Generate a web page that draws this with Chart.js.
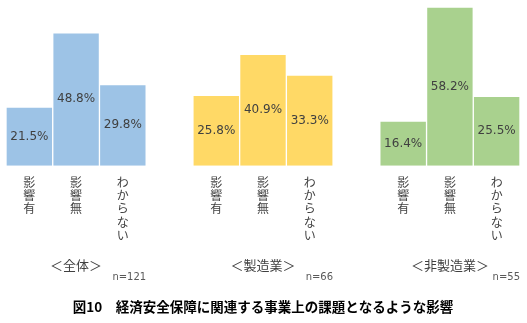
<!DOCTYPE html>
<html>
<head>
<meta charset="utf-8">
<script src="https://cdn.jsdelivr.net/npm/chart.js@4"></script>
<style>
  html, body { margin: 0; background: #fff; }
</style>
</head>
<body>
<canvas id="myChart" width="527" height="323"></canvas>
<script>
// 回答区分と各グループの結果（％）
const answers = ['影響有', '影響無', 'わからない'];
const groupNames = ['＜全体＞', '＜製造業＞', '＜非製造業＞'];
const sampleSizes = ['n=121', 'n=66', 'n=55'];
const zentai = [21.5, 48.8, 29.8];
const seizo = [25.8, 40.9, 33.3];
const hiseizo = [16.4, 58.2, 25.5];
const groupColors = ['#9DC3E6', '#FFD966', '#A9D18E'];

// グループの間に空き枠を入れて1本の棒グラフにする
const series = [zentai, seizo, hiseizo];
var labels = [];
var barValues = [];
var barColors = [];
series.forEach((vals, g) => {
	vals.forEach((v, i) => {
		labels.push(Array.from(answers[i]));   // 縦書き用に1文字ずつ改行
		barValues.push(v);
		barColors.push(groupColors[g]);
	});
	if (g < series.length - 1) {
		labels.push('');
		barValues.push(null);
		barColors.push('rgba(0,0,0,0)');
	}
});

const barLabels = {
	id: 'barLabels',
	afterDatasetsDraw(chart) {
		const ctx = chart.ctx;
		const meta = chart.getDatasetMeta(0);
		ctx.save();
		ctx.textAlign = 'center';
		ctx.textBaseline = 'middle';
		ctx.fillStyle = '#404040';
		ctx.font = '12px "DejaVu Sans"';
		meta.data.forEach((bar, i) => {
			const v = barValues[i];
			if (v == null) return;
			ctx.fillText(v.toFixed(1) + '%', bar.x, (bar.y + bar.base) / 2);
		});
		// グループ名とサンプル数
		const bottom = chart.chartArea.bottom;
		groupNames.forEach((name, g) => {
			const mid = meta.data[g * 4 + 1];
			const last = meta.data[g * 4 + 2];
			ctx.textAlign = 'center';
			ctx.fillStyle = '#404040';
			ctx.font = '13px "Noto Sans CJK JP"';
			ctx.fillText(name, mid.x, bottom + 99);
			ctx.textAlign = 'right';
			ctx.fillStyle = '#595959';
			ctx.font = '10px "DejaVu Sans"';
			ctx.fillText(sampleSizes[g], last.x + last.width / 2, bottom + 112);
		});
		ctx.restore();
	}
};

const chartArea = document.getElementById('myChart').getContext('2d');
const myChart = new Chart(chartArea, {
	type: 'bar',
	data: {
		labels: labels,
		datasets: [{
			data: barValues,
			backgroundColor: barColors,
			borderColor: '#ffffff',
			borderWidth: 1,
			barPercentage: 1,
			categoryPercentage: 1
		}]
	},
	options: {
		responsive: false,
		animation: false,
		layout: { padding: { left: 6, right: 7, top: 0, bottom: 0 } },
		plugins: {
			legend: { display: false },
			tooltip: { enabled: false },
			title: {
				display: true,
				position: 'bottom',
				text: '図10　経済安全保障に関連する事業上の課題となるような影響',
				color: '#000000',
				font: { family: '"Noto Sans CJK JP"', size: 13.5, weight: 'bold', lineHeight: 1.2 },
				padding: { top: 0, bottom: 8 }
			}
		},
		scales: {
			y: {
				display: false,
				min: 0,
				max: 60.8
			},
			x: {
				grid: { display: false, drawTicks: false },
				border: { display: false },
				ticks: {
					autoSkip: false,
					maxRotation: 0,
					padding: 10,
					color: '#404040',
					font: { family: '"Noto Sans CJK JP"', size: 12, lineHeight: 1.1 }
				},
				afterFit(scale) {
					scale.height = 133;
				}
			}
		}
	},
	plugins: [barLabels]
});
</script>
</body>
</html>
